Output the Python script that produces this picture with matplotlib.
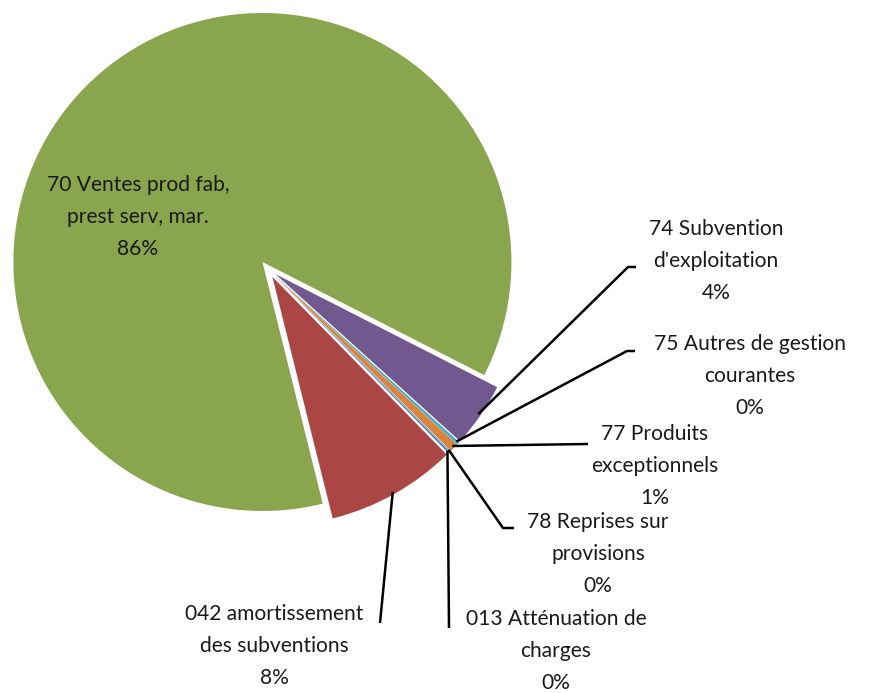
import numpy as np
import matplotlib
matplotlib.use("Agg")
import matplotlib.pyplot as plt

plt.rcParams['font.family'] = ['Lato', 'DejaVu Sans']

# data, in the order the spreadsheet lists the accounts
codes = ["013", "042", "70", "74", "75", "77", "78"]
names = ["013 Atténuation de\ncharges",
         "042 amortissement\ndes subventions",
         "70 Ventes prod fab,\nprest serv, mar.",
         "74 Subvention\nd'exploitation",
         "75 Autres de gestion\ncourantes",
         "77 Produits\nexceptionnels",
         "78 Reprises sur\nprovisions"]
shares = [0.1, 8.45, 86.4, 4.2, 0.2, 0.55, 0.1]
colors = ["#4572A7", "#AA4643", "#89A54E", "#71588F", "#4BACC6", "#DB843D", "#93A9CF"]

W, H = 869, 693
cx, cy, R = 268, 269, 249   # pie centre and radius in pixels
expl = 0.036


def px(x, y):
    # pixel position -> data units (radius = 1)
    return (x - cx) / R, (cy - y) / R


fig = plt.figure(figsize=(W / 100, H / 100), dpi=100)
ax = fig.add_axes([0, 0, 1, 1])
wedges, _ = ax.pie(shares, colors=colors, startangle=-45.2, counterclock=False,
                   explode=[expl] * len(shares), wedgeprops=dict(linewidth=0))
ax.set_xlim(px(0, 0)[0], px(W, 0)[0])
ax.set_ylim(px(0, H)[1], px(0, 0)[1])
ax.axis("off")

# label block centres (pixels) and leader line bends (pixels)
label_pos = {"013": (556, 651), "042": (274, 646), "70": (138, 217), "74": (716, 261),
             "75": (750, 376), "77": (655, 466), "78": (598, 554)}
leader = {"013": [(449, 628)],
          "042": [(380, 623)],
          "74": [(628, 267), (636, 267)],
          "75": [(627, 351), (635, 351)],
          "77": [(588, 444)],
          "78": [(503, 528), (514, 528)]}

total = sum(shares)
for code, name, v, w in zip(codes, names, shares, wedges):
    pct = v / total * 100
    txt = f"{name}\n{pct:.0f}%"
    lx, ly = px(*label_pos[code])
    ax.text(lx, ly, txt, ha="center", va="center", multialignment="center",
            fontsize=15.1, color="#1a1a1a", linespacing=1.72)
    if code in leader:
        mid = np.deg2rad((w.theta1 + w.theta2) / 2)
        ax0, ay0 = w.center
        r = w.r * 0.99
        xs = [ax0 + r * np.cos(mid)] + [px(*p)[0] for p in leader[code]]
        ys = [ay0 + r * np.sin(mid)] + [px(*p)[1] for p in leader[code]]
        ax.plot(xs, ys, color="black", linewidth=1.8, solid_capstyle="butt")

fig.savefig("out.png", dpi=100)
